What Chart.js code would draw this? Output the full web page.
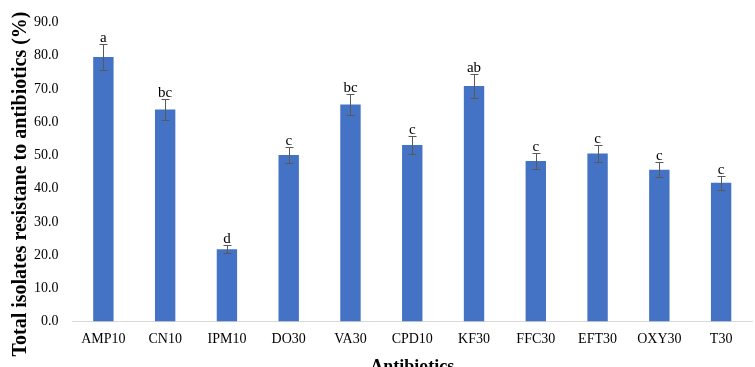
<!DOCTYPE html>
<html>
<head>
<meta charset="utf-8">
<script src="https://cdn.jsdelivr.net/npm/chart.js@4"></script>
<style>
	html, body { margin: 0; padding: 0; background: #fff; overflow: hidden; }
	#wrap { width: 755px; height: 378px; position: relative; }
</style>
</head>
<body>
<div id="wrap"><canvas id="chart"></canvas></div>
<script>
const categories = ['AMP10', 'CN10', 'IPM10', 'DO30', 'VA30', 'CPD10', 'KF30', 'FFC30', 'EFT30', 'OXY30', 'T30'];
const resistance = [79.6, 63.8, 21.8, 50.1, 65.3, 53.1, 70.9, 48.3, 50.6, 45.7, 41.8];
const errors = [4.0, 3.2, 1.2, 2.5, 3.3, 2.7, 3.6, 2.4, 2.5, 2.2, 2.1];
const letters = ['a', 'bc', 'd', 'c', 'bc', 'c', 'ab', 'c', 'c', 'c', 'c'];
const yTicks = [0, 10, 20, 30, 40, 50, 60, 70, 80, 90];
const yTitle = 'Total isolates resistane to antibiotics (%)';

// error bars, significance letters and the y title
const errorBarPlugin = {
	id: 'errorBars',
	afterDatasetsDraw: function (chart) {
		const ctx = chart.ctx;
		const yScale = chart.scales.y;
		const meta = chart.getDatasetMeta(0);
		ctx.save();
		meta.data.forEach((bar, i) => {
			const v = resistance[i];
			const e = errors[i];
			const top = Math.round(yScale.getPixelForValue(v + e)) + 0.5;
			const bot = Math.round(yScale.getPixelForValue(v - e)) + 0.5;
			const x = Math.round(bar.x) + 0.5;
			ctx.strokeStyle = '#595959';
			ctx.lineWidth = 1;
			ctx.beginPath();
			ctx.moveTo(x, top);
			ctx.lineTo(x, bot);
			ctx.moveTo(x - 4, top);
			ctx.lineTo(x + 4, top);
			ctx.moveTo(x - 4, bot);
			ctx.lineTo(x + 4, bot);
			ctx.stroke();

			ctx.fillStyle = '#000';
			ctx.font = '15px "Liberation Serif"';
			ctx.textAlign = 'center';
			ctx.textBaseline = 'alphabetic';
			ctx.fillText(letters[i], bar.x, top - 3);
		});
		ctx.restore();
	},
	afterDraw: function (chart) {
		const ctx = chart.ctx;
		ctx.save();
		ctx.translate(21, 184);
		ctx.rotate(-Math.PI / 2);
		ctx.fillStyle = '#000';
		ctx.font = 'bold 20px "Liberation Serif"';
		ctx.textAlign = 'center';
		ctx.textBaseline = 'middle';
		ctx.fillText(yTitle, 0, 0);
		ctx.restore();
	}
};

const ctx = document.getElementById('chart').getContext('2d');
const chart = new Chart(ctx, {
	type: 'bar',
	data: {
		labels: categories,
		datasets: [{
			data: resistance,
			backgroundColor: '#4472C4',
			borderWidth: 0,
			categoryPercentage: 1.0,
			barPercentage: 0.33
		}]
	},
	options: {
		responsive: true,
		maintainAspectRatio: false,
		animation: false,
		layout: {
			padding: { left: 20, right: 3, top: 14, bottom: 0 }
		},
		plugins: {
			legend: { display: false },
			tooltip: { enabled: false }
		},
		scales: {
			x: {
				grid: { display: false, drawTicks: false },
				border: { color: '#d9d9d9', width: 1 },
				ticks: {
					color: '#000',
					padding: 9,
					maxRotation: 0,
					font: { family: 'Liberation Serif', size: 14 }
				},
				title: {
					display: true,
					text: 'Antibiotics',
					color: '#000',
					padding: { top: 0, bottom: 0 },
					font: { family: 'Liberation Serif', size: 18, weight: 'bold' }
				}
			},
			y: {
				min: 0,
				max: 90,
				afterBuildTicks: function (axis) {
					axis.ticks = yTicks.map(v => ({ value: v }));
				},
				grid: { display: false, drawTicks: false },
				border: { display: false },
				ticks: {
					color: '#000',
					padding: 14,
					font: { family: 'Liberation Serif', size: 14 },
					callback: v => v.toFixed(1)
				}
			}
		}
	},
	plugins: [errorBarPlugin]
});
</script>
</body>
</html>
